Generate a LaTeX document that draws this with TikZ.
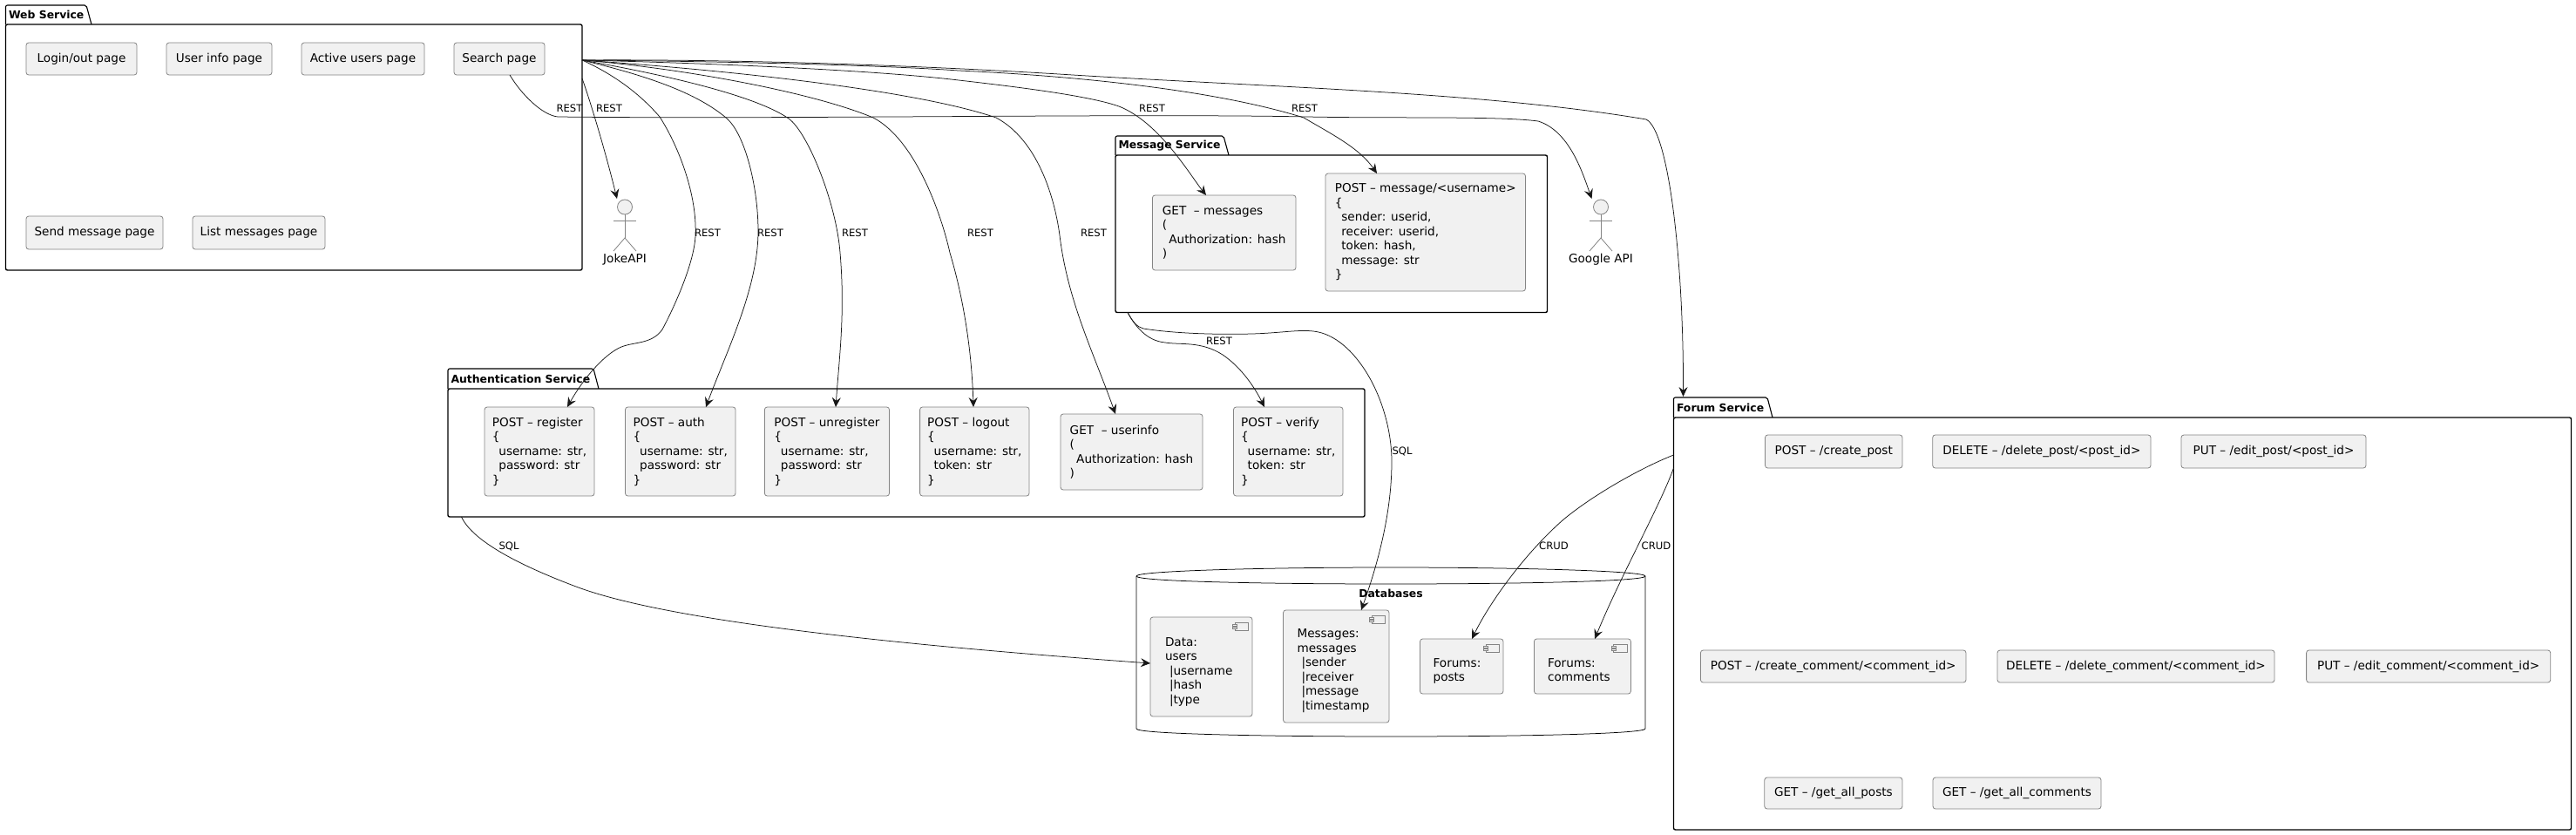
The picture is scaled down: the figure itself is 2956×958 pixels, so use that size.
\documentclass[tikz,border=0pt]{standalone}
\usepackage{fontspec}
\setmainfont{DejaVu Sans}
\usetikzlibrary{arrows.meta}
\definecolor{boxfill}{HTML}{F1F1F1}
\definecolor{ink}{HTML}{181818}
\definecolor{boxline}{HTML}{848484}
\tikzset{
  boxnode/.style={draw=boxline,line width=0.8pt,fill=boxfill,rounded corners=3pt,inner sep=0pt,outer sep=0pt,align=left,font=\fontsize{13.6}{16.5}\selectfont,text=black},
  boxtext/.style={inner sep=0pt,outer sep=0pt,align=left,font=\fontsize{13.6}{16.5}\selectfont,text=black},
  pkgbody/.style={draw=black,line width=1.4pt,fill=white,rounded corners=2pt,inner sep=0pt,outer sep=0pt},
  pkgtab/.style={draw=black,line width=1.1pt,fill=white,rounded corners=2pt},
  pkgtitle/.style={inner sep=0pt,outer sep=0pt,font=\fontsize{12.4}{15}\selectfont\bfseries,text=black},
  conn/.style={draw=ink,line width=0.75pt,-{Stealth[length=11pt,width=10pt,inset=4pt,color=ink]}},
  edgelab/.style={inner sep=0pt,outer sep=0pt,font=\fontsize{11.6}{14}\selectfont,text=black},
  actorline/.style={draw=boxline,line width=0.8pt},
  actorhead/.style={circle,draw=boxline,line width=0.8pt,fill=boxfill,minimum size=17pt,inner sep=0pt,outer sep=0pt},
  actorlabel/.style={inner sep=0pt,outer sep=0pt,font=\fontsize{13.6}{16.5}\selectfont,text=black},
  dbline/.style={draw=black,line width=0.75pt,fill=white},
  iconline/.style={draw=boxline,line width=0.8pt,fill=boxfill},
}
\newcommand\mybox[6]{\node[boxnode,minimum width={(#4-#2)*1pt},minimum height={(#5-#3)*1pt}] (#1) at ({(#2+#4)/2},{(#3+#5)/2}) {#6};}
\newcommand\mycomp[8]{\node[boxnode,minimum width={(#4-#2)*1pt},minimum height={(#5-#3)*1pt}] (#1) at ({(#2+#4)/2},{(#3+#5)/2}) {};
  \begin{scope}[shift={(#1.north east)}]
    \draw[iconline] (-20,6) rectangle (-4.5,15.5);
    \draw[iconline] (-22.5,8) rectangle (-17.5,10);
    \draw[iconline] (-22.5,11.5) rectangle (-17.5,13.5);
  \end{scope}
  \node[boxtext,anchor=north west] (#1-text) at (#6,#7) {#8};}
\newcommand\mypkg[8]{% name x1 ytab ybody x2 y2 tabright title
  \draw[pkgtab] (#2,#4) -- (#2,#3) -- (#7-6,#3) -- (#7,#4);
  \node[pkgbody,minimum width={(#5-#2)*1pt},minimum height={(#6-#4)*1pt}] (#1) at ({(#2+#5)/2},{(#4+#6)/2}) {};
  \node[pkgtitle,anchor=west] (#1-title) at (#2+3.5,{(#3+#4)/2}) {#8};}
\newcommand\myactor[3]{% name cx label
  \node[actorhead] (#1) at (#2,237.5) {};
  \draw[actorline] (#1.south) -- (#2,273);
  \draw[actorline] (#2-13,253) -- (#2+13,253);
  \draw[actorline] (#2-13,288) -- (#2,273) -- (#2+13,288);
  \node[actorlabel] (#1-label) at (#2,297.5) {#3};}
\newcommand\ind{\hspace*{7.5pt}}
\newcommand\indb{\hspace*{5pt}}
\begin{document}
\begin{tikzpicture}[x=1pt,y=-1pt]
\useasboundingbox (0,0) rectangle (2956,958);
\fill[white] (0,0) rectangle (2956,958);

% packages
\mypkg{webpkg}{6.5}{6}{28}{668}{310}{105}{Web Service}
\mypkg{msgpkg}{1280}{156}{178}{1775.5}{358.5}{1410}{Message Service}
\mypkg{authpkg}{514}{423}{446}{1566}{593}{687}{Authentication Service}
\mypkg{forumpkg}{1920.5}{456}{479}{2950.5}{952}{2034}{Forum Service}

% database cylinder
\draw[dbline] (1304,661) .. controls (1304,655) and (1450,651) .. (1596,651) .. controls (1742,651) and (1888,655) .. (1888,661) -- (1888,836) .. controls (1888,842) and (1742,845) .. (1596,845) .. controls (1450,845) and (1304,842) .. (1304,836) -- cycle;
\draw[dbline] (1304,661) .. controls (1304,667) and (1450,670) .. (1596,670) .. controls (1742,670) and (1888,667) .. (1888,661);
\node[pkgtitle] (dbtitle) at (1596,681) {Databases};

% web pages
\mybox{login}{30}{49}{157}{86}{Login/out page}
\mybox{userinfo}{191}{49}{312}{86}{User info page}
\mybox{active}{346}{49}{487}{86}{Active users page}
\mybox{search}{521}{49}{625}{86}{Search page}
\mybox{sendmsg}{30}{248}{187}{286}{Send message page}
\mybox{listmsg}{221}{248}{373}{286}{List messages page}

% actors
\myactor{joke}{717}{JokeAPI}
\myactor{google}{1837}{Google API}

% message service
\mybox{getmsg}{1322.4}{224}{1487}{310}{GET~~– messages\\(\\\ind Authorization: hash\\)}
\mybox{postmsg}{1521}{199}{1750.5}{334}{POST – message/<username>\\\{\\\ind sender: userid,\\\ind receiver: userid,\\\ind token: hash,\\\ind message: str\\\}}

% auth service
\mybox{register}{556}{467}{682}{569}{POST – register\\\{\\\ind username: str,\\\ind password: str\\\}}
\mybox{auth}{717.5}{467}{844}{569}{POST – auth\\\{\\\ind username: str,\\\ind password: str\\\}}
\mybox{unregister}{877.4}{467}{1020.5}{569}{POST – unregister\\\{\\\ind username: str,\\\ind password: str\\\}}
\mybox{logout}{1055.6}{467}{1181}{569}{POST – logout\\\{\\\ind username: str,\\\ind token: str\\\}}
\mybox{getuser}{1217}{475}{1380}{562}{GET~~– userinfo\\(\\\ind Authorization: hash\\)}
\mybox{verify}{1415.5}{467}{1541}{569}{POST – verify\\\{\\\ind username: str,\\\ind token: str\\\}}

% databases
\mycomp{data}{1320}{708}{1437}{822}{1337}{731.5}{Data:\\users\\\indb|username\\\indb|hash\\\indb|type}
\mycomp{messages}{1472.5}{700}{1594}{829}{1488.5}{722}{Messages:\\messages\\\indb|sender\\\indb|receiver\\\indb|message\\\indb|timestamp}
\mycomp{posts}{1629.5}{733}{1725}{796}{1644.6}{755.5}{Forums:\\posts}
\mycomp{comments}{1760.4}{733}{1871.4}{796}{1776}{755.5}{Forums:\\comments}

% forum service
\mybox{createpost}{2025.5}{499}{2183}{537}{POST – /create\_post}
\mybox{deletepost}{2217.7}{499}{2468}{537}{DELETE – /delete\_post/<post\_id>}
\mybox{editpost}{2503}{499}{2715}{537}{PUT – /edit\_post/<post\_id>}
\mybox{createcomment}{1951.4}{746}{2256}{783}{POST – /create\_comment/<comment\_id>}
\mybox{deletecomment}{2292}{746}{2610}{783}{DELETE – /delete\_comment/<comment\_id>}
\mybox{editcomment}{2646.6}{746}{2926.7}{783}{PUT – /edit\_comment/<comment\_id>}
\mybox{getposts}{2024.8}{892}{2183}{928}{GET – /get\_all\_posts}
\mybox{getcomments}{2218}{892}{2411}{928}{GET – /get\_all\_comments}

% connectors
\draw[conn] ([xshift=64pt]search.south west) .. controls (598,108) and (622,132) .. (640,134) .. controls (900,137) and (1300,130) .. (1500,134) .. controls (1600,136) and (1720,133) .. (1765,139) .. controls (1800,150) and (1815,195) .. ([xshift=-10.5pt,yshift=1pt]google.north);
\draw[conn] ([yshift=-62pt]webpkg.north east) .. controls (678,118) and (695,175) .. ([xshift=-9pt,yshift=1pt]joke.north);
\draw[conn] ([yshift=-41pt]webpkg.north east) .. controls (710,88) and (738,112) .. (757,134) .. controls (780,170) and (800,225) .. (798,270) .. controls (797,300) and (775,350) .. (760,378) .. controls (748,395) and (728,392) .. (713,398) .. controls (696,405) and (672,430) .. ([xshift=95pt]register.north west);
\draw[conn] ([yshift=-41pt]webpkg.north east) .. controls (730,84) and (795,103) .. (833,135) .. controls (855,153) and (870,215) .. (870,265) .. controls (870,330) and (835,400) .. ([xshift=92.5pt]auth.north west);
\draw[conn] ([yshift=-41pt]webpkg.north east) .. controls (730,80) and (860,105) .. (905,136) .. controls (928,153) and (960,235) .. (964,290) .. controls (970,360) and (963,410) .. ([xshift=81.6pt]unregister.north west);
\draw[conn] ([yshift=-41pt]webpkg.north east) .. controls (780,78) and (930,105) .. (1002,135) .. controls (1050,160) and (1080,245) .. (1090,290) .. controls (1105,340) and (1115,400) .. ([xshift=61.4pt]logout.north west);
\draw[conn] ([yshift=-41pt]webpkg.north east) .. controls (800,78) and (1040,100) .. (1143,135) .. controls (1190,160) and (1210,225) .. (1216,270) .. controls (1225,345) and (1255,405) .. ([xshift=63pt]getuser.north west);
\draw[conn] ([yshift=-41pt]webpkg.north east) .. controls (800,72) and (1000,80) .. (1100,92) .. controls (1170,100) and (1250,110) .. (1284,122) .. controls (1330,140) and (1365,200) .. ([xshift=61.6pt]getmsg.north west);
\draw[conn] ([yshift=-41pt]webpkg.north east) .. controls (800,70) and (1000,74) .. (1100,81) .. controls (1250,88) and (1400,105) .. (1496,135) .. controls (1530,155) and (1560,170) .. ([xshift=59pt]postmsg.north west);
\draw[conn] ([yshift=-41pt]webpkg.north east) .. controls (800,68) and (1000,72) .. (1215,85) .. controls (1450,100) and (1700,105) .. (1889,137) .. controls (1915,150) and (1932,300) .. ([xshift=11pt,yshift=24pt]forumpkg.north west);
\draw[conn] ([xshift=14pt]msgpkg.south west) .. controls (1302,373) and (1315,391) .. (1337,393) .. controls (1355,396) and (1378,391) .. (1403,407) .. controls (1425,422) and (1440,445) .. ([xshift=35.5pt]verify.north west);
\draw[conn] ([xshift=14pt]msgpkg.south west) .. controls (1300,370) and (1305,375) .. (1312,377) .. controls (1350,383) and (1400,384) .. (1437,383) .. controls (1470,382) and (1490,378) .. (1507,380) .. controls (1555,385) and (1597,460) .. (1597,530) .. controls (1597,590) and (1580,650) .. ([xshift=89.5pt]messages.north west);
\draw[conn] ([xshift=15.5pt]authpkg.south west) .. controls (543,622) and (600,650) .. (661,673) .. controls (780,718) and (1100,745) .. ([yshift=-53pt]data.north west);
\draw[conn] ([yshift=-43pt]forumpkg.north west) .. controls (1880,538) and (1825,570) .. (1793,597) .. controls (1750,635) and (1710,690) .. ([xshift=59.5pt]posts.north west);
\draw[conn] ([yshift=-58pt]forumpkg.north west) .. controls (1905,580) and (1860,660) .. ([xshift=69.6pt]comments.north west);

% connector labels
\node[edgelab] (l1) at (653.5,124) {REST};
\node[edgelab] (l2) at (699,124) {REST};
\node[edgelab] (l3) at (812,267) {REST};
\node[edgelab] (l4) at (884,267) {REST};
\node[edgelab] (l5) at (981,267) {REST};
\node[edgelab] (l6) at (1125,267) {REST};
\node[edgelab] (l7) at (1255,267) {REST};
\node[edgelab] (l8) at (1322,124) {REST};
\node[edgelab] (l9) at (1497,124) {REST};
\node[edgelab] (l10) at (1399,391) {REST};
\node[edgelab] (l11) at (1609,518) {SQL};
\node[edgelab] (l12) at (584,627) {SQL};
\node[edgelab] (l13) at (1783,626) {CRUD};
\node[edgelab] (l14) at (1900.5,626) {CRUD};
\end{tikzpicture}
\end{document}
